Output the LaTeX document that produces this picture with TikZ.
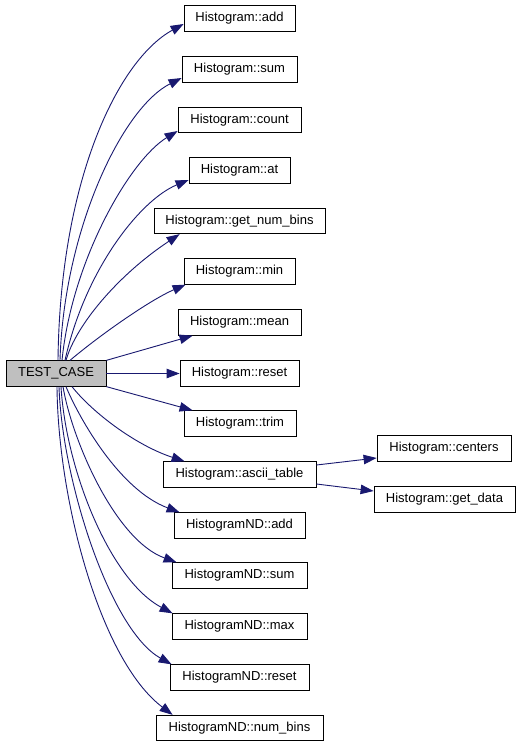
\documentclass[tikz,border=0pt]{standalone}
\usepackage{fontspec}
\setmainfont{Liberation Sans}
\usetikzlibrary{arrows.meta,calc}
\definecolor{edgeblue}{HTML}{191970}
\definecolor{rootgrey}{HTML}{BFBFBF}
\begin{document}
\begin{tikzpicture}[x=1bp,y=-1bp,
  box/.style={draw=black,line width=0.8bp,fill=white,minimum height=25.5bp,inner sep=0pt,font=\fontsize{13bp}{15bp}\selectfont},
  edge/.style={draw=edgeblue,line width=0.9bp,-{Triangle[length=13bp,width=9.5bp]}}]
\useasboundingbox (0,0) rectangle (520,747);
\fill[white] (0,0) rectangle (520,747);
% nodes
\node[box,fill=rootgrey,minimum width=100bp] (tc) at (56,373.5) {TEST\_CASE};
\node[box,minimum width=111bp] (add) at (239.5,18.5) {Histogram::add};
\node[box,minimum width=115bp] (sum) at (239.5,69.5) {Histogram::sum};
\node[box,minimum width=123bp] (count) at (239.5,120) {Histogram::count};
\node[box,minimum width=101bp] (at) at (239.5,170.5) {Histogram::at};
\node[box,minimum width=171bp] (gnb) at (239.5,221) {Histogram::get\_num\_bins};
\node[box,minimum width=111bp] (min) at (239.5,271.5) {Histogram::min};
\node[box,minimum width=123bp] (mean) at (239.5,322.5) {Histogram::mean};
\node[box,minimum width=119bp] (reset) at (239.5,373.5) {Histogram::reset};
\node[box,minimum width=112bp] (trim) at (240,423.5) {Histogram::trim};
\node[box,minimum width=153bp] (ascii) at (239.5,474.5) {Histogram::ascii\_table};
\node[box,minimum width=131bp] (ndadd) at (239.5,525.5) {HistogramND::add};
\node[box,minimum width=135bp] (ndsum) at (239.5,575.5) {HistogramND::sum};
\node[box,minimum width=135bp] (ndmax) at (239.5,626.5) {HistogramND::max};
\node[box,minimum width=139bp] (ndreset) at (239.5,677.5) {HistogramND::reset};
\node[box,minimum width=167bp] (ndnb) at (239.5,728) {HistogramND::num\_bins};
\node[box,minimum width=134bp] (centers) at (444,448.5) {Histogram::centers};
\node[box,minimum width=141bp] (getdata) at (444.5,499.5) {Histogram::get\_data};
% edges upward
\draw[edge] ($(tc.north)+(2,0)$) .. controls (60,180) and (118,60) .. ($(add.west)+(0,5.5)$);
\draw[edge] ($(tc.north)+(4,0)$) .. controls (64,230) and (122,108) .. ($(sum.west)+(0,8.5)$);
\draw[edge] ($(tc.north)+(6,0)$) .. controls (72,260) and (130,160) .. ($(count.west)+(0,11)$);
\draw[edge] ($(tc.north)+(9,0)$) .. controls (85,270) and (140,200) .. ($(at.west)+(0,9.5)$);
\draw[edge] ($(tc.north)+(10,0)$) .. controls (76,325) and (118,275) .. ($(gnb.south west)+(26,0)$);
\draw[edge] ($(tc.north)+(14,0)$) .. controls (100,335) and (150,300) .. ($(min.south west)+(2,0)$);
\draw[edge] (tc.north east) -- ($(mean.south west)+(15,0)$);
\draw[edge] (tc.east) -- (reset.west);
\draw[edge] (tc.south east) -- ($(trim.north west)+(9,0)$);
% edges downward
\draw[edge] ($(tc.south)+(16,0)$) .. controls (92,412) and (135,445) .. ($(ascii.north west)+(22,0)$);
\draw[edge] ($(tc.south)+(10,0)$) .. controls (80,420) and (120,490) .. ($(ndadd.north west)+(6,0)$);
\draw[edge] ($(tc.south)+(7,0)$) .. controls (72,440) and (115,540) .. ($(ndsum.north west)+(5,0)$);
\draw[edge] ($(tc.south)+(5,0)$) .. controls (66,470) and (110,580) .. ($(ndmax.north west)+(1,0)$);
\draw[edge] ($(tc.south)+(3,0)$) .. controls (62,480) and (110,630) .. ($(ndreset.north west)+(2,0)$);
\draw[edge] ($(tc.south)+(1,0)$) .. controls (58,500) and (100,660) .. ($(ndnb.north west)+(17,0)$);
% ascii_table edges
\draw[edge] ($(ascii.east)+(0,-9.5)$) -- ($(centers.west)+(0,9.5)$);
\draw[edge] ($(ascii.east)+(0,9.5)$) -- ($(getdata.west)+(0,-8.5)$);
\end{tikzpicture}
\end{document}
